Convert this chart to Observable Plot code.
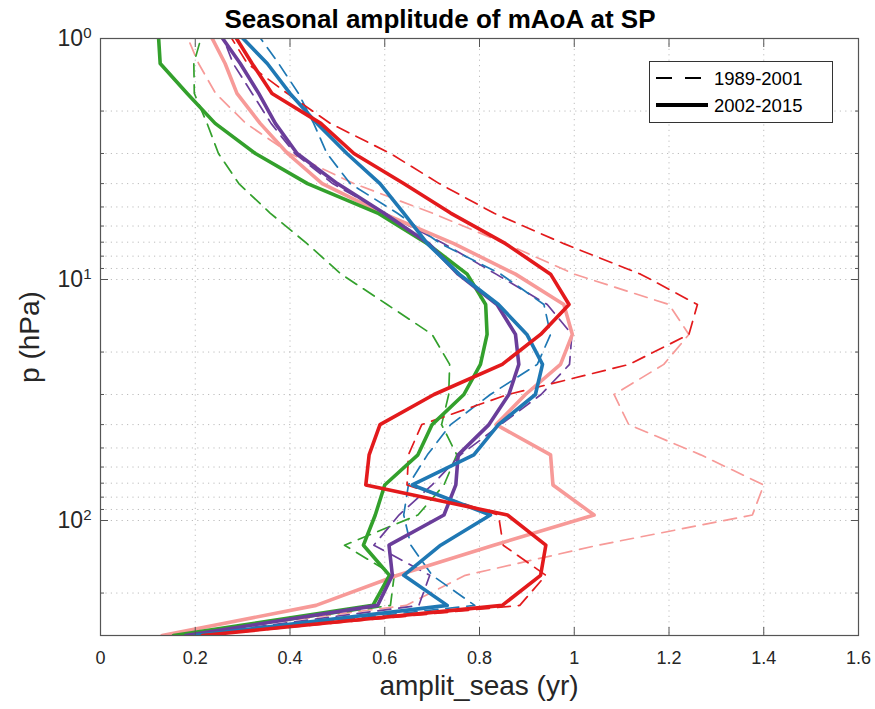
<!DOCTYPE html>
<html>
<head>
<meta charset="utf-8">
<script src="https://cdn.jsdelivr.net/npm/d3@7"></script>
<script src="https://cdn.jsdelivr.net/npm/@observablehq/plot@0.6"></script>
<style>
  body { margin: 0; background: #fff; }
  #wrap { position: relative; width: 875px; height: 709px; font-family: "Liberation Sans", Arial, sans-serif; color: #262626; }
  #title { position: absolute; left: 0; top: 4px; width: 880px; text-align: center; font-weight: bold; font-size: 26px; color: #000; }
  #xlabel { position: absolute; left: 0; top: 670px; width: 958px; text-align: center; font-size: 28px; }
  #ylabel { position: absolute; left: 30px; top: 337px; transform: translate(-50%, -50%) rotate(-90deg); font-size: 28px; white-space: nowrap; }
  #legend { position: absolute; left: 649px; top: 61px; }
</style>
</head>
<body>
<div id="wrap">
  <div id="chart"></div>
  <div id="title">Seasonal amplitude of mAoA at SP</div>
  <div id="xlabel">amplit_seas (yr)</div>
  <div id="ylabel">p (hPa)</div>
  <svg id="legend" width="184" height="62"></svg>
</div>
<script>
// Pressure levels (hPa), bottom to top
const levels = [300, 225, 168.8, 126.6, 94.9, 71.2, 53.4, 40.0, 30.0, 22.5, 16.9, 12.7, 9.5, 7.1, 5.3, 4.0, 3.0, 2.25, 1.69, 1.27, 0.95];

// Seasonal amplitude (yr) at each level
const pink1989   = [0.15, 0.645, 0.77, 1.05, 1.376, 1.40, 1.267, 1.115, 1.084, 1.189, 1.242, 1.20, 1.00, 0.855, 0.70, 0.535, 0.40, 0.307, 0.243, 0.207, 0.18];
const pink2002   = [0.13, 0.455, 0.627, 0.83, 1.042, 0.955, 0.95, 0.835, 0.897, 0.971, 0.996, 0.978, 0.876, 0.746, 0.595, 0.468, 0.395, 0.337, 0.288, 0.263, 0.23];
const green1989  = [0.17, 0.612, 0.62, 0.515, 0.67, 0.725, 0.752, 0.72, 0.735, 0.737, 0.70, 0.605, 0.508, 0.436, 0.358, 0.292, 0.249, 0.225, 0.198, 0.197, 0.215];
const green2002  = [0.154, 0.575, 0.61, 0.555, 0.58, 0.60, 0.67, 0.70, 0.767, 0.802, 0.816, 0.813, 0.774, 0.69, 0.585, 0.437, 0.327, 0.242, 0.183, 0.126, 0.122];
const purple1989 = [0.19, 0.672, 0.695, 0.577, 0.63, 0.70, 0.76, 0.845, 0.93, 0.99, 0.995, 0.943, 0.835, 0.725, 0.60, 0.49, 0.41, 0.36, 0.32, 0.28, 0.255];
const purple2002 = [0.18, 0.585, 0.616, 0.609, 0.725, 0.75, 0.755, 0.82, 0.862, 0.883, 0.876, 0.837, 0.755, 0.693, 0.598, 0.50, 0.415, 0.369, 0.334, 0.295, 0.25];
const blue1989   = [0.20, 0.79, 0.70, 0.655, 0.64, 0.65, 0.69, 0.739, 0.823, 0.922, 0.95, 0.936, 0.845, 0.718, 0.626, 0.527, 0.478, 0.45, 0.418, 0.376, 0.33];
const blue2002   = [0.20, 0.732, 0.64, 0.718, 0.823, 0.658, 0.788, 0.84, 0.918, 0.933, 0.90, 0.84, 0.757, 0.69, 0.64, 0.59, 0.52, 0.457, 0.40, 0.352, 0.29];
const red1989    = [0.22, 0.885, 0.94, 0.85, 0.84, 0.647, 0.65, 0.678, 0.86, 1.116, 1.242, 1.26, 1.14, 0.978, 0.83, 0.715, 0.612, 0.485, 0.394, 0.31, 0.27];
const red2002    = [0.215, 0.848, 0.929, 0.94, 0.859, 0.56, 0.567, 0.59, 0.704, 0.848, 0.929, 0.989, 0.95, 0.855, 0.739, 0.64, 0.535, 0.465, 0.362, 0.32, 0.28];

const periods = ["1989-2001", "2002-2015"];
const colors = {pink: "#f79a98", green: "#33a02c", purple: "#6a3d9a", blue: "#1f78b4", red: "#e31a1c"};

const xTicks = [0, 0.2, 0.4, 0.6, 0.8, 1.0, 1.2, 1.4, 1.6];
const xTickLabels = ["0", "0.2", "0.4", "0.6", "0.8", "1", "1.2", "1.4", "1.6"];
const yMajor = [1, 10, 100];
const yMajorExp = ["0", "1", "2"];
const yMinor = [2, 3, 4, 5, 6, 7, 8, 9, 20, 30, 40, 50, 60, 70, 80, 90, 200, 300];

const dashed = [
  {values: pink1989, color: colors.pink},
  {values: green1989, color: colors.green},
  {values: purple1989, color: colors.purple},
  {values: blue1989, color: colors.blue},
  {values: red1989, color: colors.red}
];
const solid = [
  {values: pink2002, color: colors.pink},
  {values: green2002, color: colors.green},
  {values: purple2002, color: colors.purple},
  {values: blue2002, color: colors.blue},
  {values: red2002, color: colors.red}
];

const gridStyle = {stroke: "#bdbdbd", strokeOpacity: 1, strokeWidth: 1, strokeDasharray: "1.2,4.2"};

const lineMarks = [
  ...dashed.map(s => Plot.line(levels, {x: (d, i) => s.values[i], y: d => d, stroke: s.color, strokeWidth: 1.7, strokeDasharray: "13,8", clip: true})),
  ...solid.map(s => Plot.line(levels, {x: (d, i) => s.values[i], y: d => d, stroke: s.color, strokeWidth: 3.6, clip: true}))
];

const noText = () => "";
const chart = Plot.plot({
  width: 875,
  height: 709,
  marginTop: 38,
  marginBottom: 74,
  marginLeft: 100,
  marginRight: 17,
  style: {fontFamily: "'Liberation Sans', Arial, sans-serif", fontSize: "18px", color: "#262626", background: "white"},
  x: {domain: [0, 1.6]},
  y: {type: "log", domain: [1, 300], reverse: true},
  marks: [
    Plot.gridX(xTicks.slice(1, -1), gridStyle),
    Plot.gridY([...yMajor.slice(1), ...yMinor.slice(0, -1)], gridStyle),
    ...lineMarks,
    Plot.frame({stroke: "#555", strokeWidth: 1.2}),
    Plot.axisX(xTicks, {anchor: "bottom", tickSize: 0, tickPadding: 16, tickFormat: (d, i) => xTickLabels[i], label: null}),
    Plot.axisX(xTicks, {anchor: "bottom", tickSize: -8, tickFormat: noText, label: null, stroke: "#555"}),
    Plot.axisX(xTicks, {anchor: "top", tickSize: -8, tickFormat: noText, label: null, stroke: "#555"}),
    Plot.axisY(yMajor, {anchor: "left", tickSize: 0, tickPadding: 9, tickFormat: () => "10", label: null}),
    Plot.axisY(yMajor, {anchor: "left", tickSize: -8, tickFormat: noText, label: null, stroke: "#555"}),
    Plot.axisY(yMinor, {anchor: "left", tickSize: -4, tickFormat: noText, label: null, stroke: "#555"}),
    Plot.axisY(yMajor, {anchor: "right", tickSize: -8, tickFormat: noText, label: null, stroke: "#555"}),
    Plot.axisY(yMinor, {anchor: "right", tickSize: -4, tickFormat: noText, label: null, stroke: "#555"})
  ]
});
document.getElementById("chart").appendChild(chart);

// superscript exponents for the log axis labels
d3.select(chart).selectAll('g[aria-label="y-axis tick label"] text').each(function(d, i) {
  const t = d3.select(this);
  if (t.text() === "10") {
    t.attr("font-size", "23px");
    t.append("tspan").attr("dy", "-0.55em").attr("font-size", "15px").text(yMajorExp[i] ?? "");
  }
});

// legend
const lg = d3.select("#legend");
lg.append("rect").attr("x", 0.5).attr("y", 0.5).attr("width", 183).attr("height", 61)
  .attr("fill", "white").attr("stroke", "#333").attr("stroke-width", 1);
const legendItems = [
  {label: periods[0], width: 2, dash: "16,13", x2: 53, y: 17},
  {label: periods[1], width: 4, dash: null, x2: 59, y: 44}
];
legendItems.forEach(it => {
  lg.append("line").attr("x1", 7).attr("x2", it.x2).attr("y1", it.y).attr("y2", it.y)
    .attr("stroke", "#000").attr("stroke-width", it.width).attr("stroke-dasharray", it.dash);
  lg.append("text").attr("x", 65).attr("y", it.y + 6.5).attr("font-size", "18.5px")
    .attr("font-family", "'Liberation Sans', Arial, sans-serif").attr("fill", "#000").text(it.label);
});
</script>
</body>
</html>
